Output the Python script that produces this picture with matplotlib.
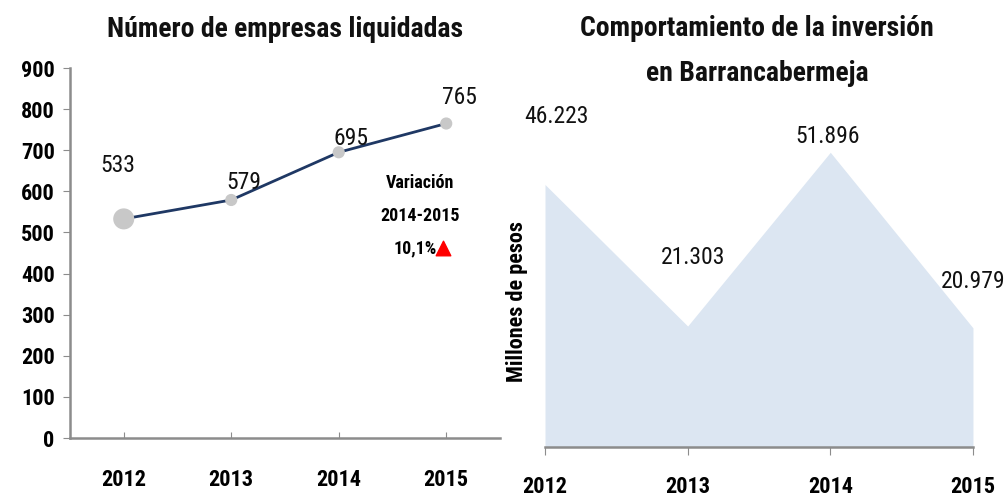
import matplotlib
matplotlib.use("Agg")
import matplotlib.pyplot as plt

plt.rcParams['font.family'] = ['Liberation Sans Narrow', 'Roboto Condensed', 'Lato', 'DejaVu Sans']

# --- data
years = ["2012", "2013", "2014", "2015"]
empresas = [533, 579, 695, 765]
empresas_labels = ["533", "579", "695", "765"]
inversion = [46.223, 21.303, 51.896, 20.979]
inversion_labels = ["46.223", "21.303", "51.896", "20.979"]
left_yticks = [0, 100, 200, 300, 400, 500, 600, 700, 800, 900]

fig = plt.figure(figsize=(10.07, 4.99), dpi=100)

#--- left panel: line chart
ax1 = fig.add_axes([0.0695, 0.1222, 0.4270, 0.7415])
x = list(range(len(years)))
ax1.plot(x, empresas, color="#1F3864", lw=2, zorder=2)
ax1.scatter(x, empresas, s=[200, 60, 60, 60], color="#C8C8C8", zorder=3)
# label offsets as in the original (dx in categories, dy in counts)
lab_off = [(-0.06, 130), (0.12, 42), (0.11, 34), (0.12, 64)]
for xi, v, lab, (dx, dy) in zip(x, empresas, empresas_labels, lab_off):
    ax1.text(xi + dx, v + dy, lab, ha="center", va="center", fontsize=17, color="#111111")
ax1.set_xlim(-0.5, 3.5)
ax1.set_ylim(0, 900)
ax1.set_yticks(left_yticks)
ax1.set_xticks(x)
ax1.set_xticklabels(years)
ax1.tick_params(axis="y", direction="out", length=5, color="#8C8C8C", labelsize=16, pad=6)
ax1.tick_params(axis="x", direction="in", length=4, color="#8C8C8C", labelsize=16, pad=22)
for lab in ax1.get_xticklabels() + ax1.get_yticklabels():
    lab.set_fontweight("bold")
for s in ["top", "right"]:
    ax1.spines[s].set_visible(False)
for s in ["left", "bottom"]:
    ax1.spines[s].set_color("#8C8C8C")
    ax1.spines[s].set_linewidth(1.8)
ax1.set_title("Número de empresas liquidadas", fontsize=20, fontweight="bold", pad=22, color="#111111")

ax1.text(2.76, 620, "Variación", ha="center", va="center", fontsize=13, fontweight="bold")
ax1.text(2.76, 540, "2014-2015", ha="center", va="center", fontsize=13, fontweight="bold")
ax1.text(2.71, 462, "10,1%", ha="center", va="center", fontsize=13, fontweight="bold")
ax1.scatter([2.97], [462], marker="^", s=110, color="#FF0000", zorder=4)

#--- right panel: area chart
ax2 = fig.add_axes([0.5412, 0.1042, 0.4250, 0.6954])
ax2.fill_between(x, inversion, 0, color="#DCE6F2", lw=0)
ax2.set_xlim(0, 3)
ax2.set_ylim(0, 61.1)
ax2.set_xticks(x)
ax2.set_xticklabels(years)
ax2.set_yticks([])
ax2.tick_params(axis="x", direction="out", length=6, color="#8C8C8C", labelsize=16, pad=15)
for lab in ax2.get_xticklabels():
    lab.set_fontweight("bold")
for s in ["top", "right", "left"]:
    ax2.spines[s].set_visible(False)
ax2.spines["bottom"].set_color("#8C8C8C")
ax2.spines["bottom"].set_linewidth(1.8)

label_offsets = [(0.08, 11.9), (0.04, 12.0), (-0.02, 2.7), (0.0, 8.1)]
for xi, v, lab, (dx, dy) in zip(x, inversion, inversion_labels, label_offsets):
    ax2.text(xi + dx, v + dy, lab, ha="center", va="center", fontsize=17, color="#111111")
ax2.set_ylabel("Millones de pesos", fontsize=16, fontweight="bold", labelpad=2)
ax2.yaxis.set_label_coords(-0.04, 0.42)
fig.text(0.752, 0.942, "Comportamiento de la inversión", ha="center", va="center",
         fontsize=20, fontweight="bold", color="#111111")
fig.text(0.752, 0.853, "en Barrancabermeja", ha="center", va="center",
         fontsize=20, fontweight="bold", color="#111111")

fig.savefig("out.png", dpi=100)
